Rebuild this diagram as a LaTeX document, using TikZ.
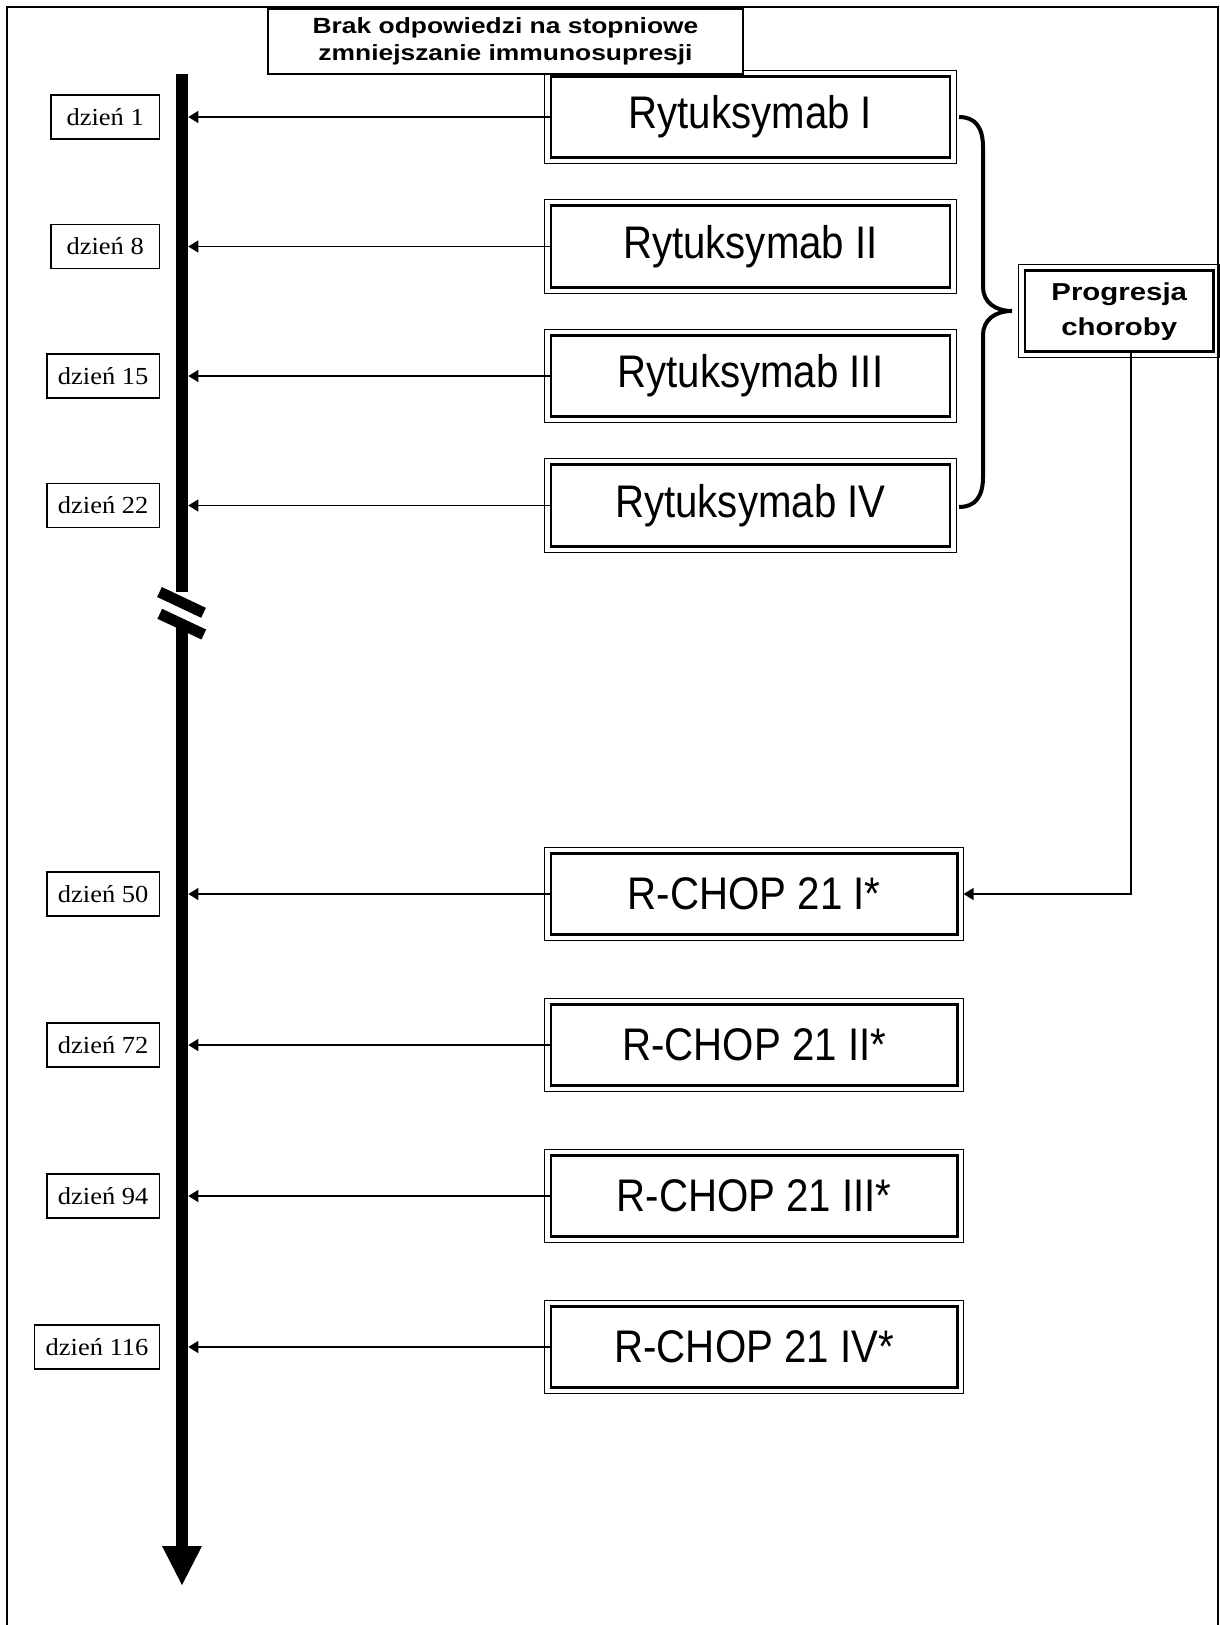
\documentclass[tikz,border=0pt]{standalone}
\usepackage{fontspec}
\setmainfont{Liberation Serif}
\newfontfamily\szeryf{Liberation Serif}[FakeStretch=1.08]
\newfontfamily\waski{Liberation Sans}[FakeStretch=0.88]
\newfontfamily\szeroki{Liberation Sans}[FakeStretch=1.2]
\usetikzlibrary{arrows.meta,calc}

\tikzset{
  lek/.style={draw, line width=2.6pt, fill=white, inner sep=0pt, minimum height=81.5pt, font=\waski\fontsize{45.7}{50}\selectfont},
  rtx/.style={lek, minimum width=399pt},
  chop/.style={lek, minimum width=406.5pt},
  progbox/.style={draw, line width=2.6pt, fill=white, inner sep=0pt, minimum width=188.5pt, minimum height=81pt, align=center, font=\szeroki\bfseries\fontsize{24.5}{35}\selectfont},
  naglowek/.style={draw, line width=1.3pt, fill=white, inner sep=0pt, minimum width=475pt, minimum height=65pt, align=center, font=\szeroki\bfseries\fontsize{22}{27.3}\selectfont},
  dzien/.style={draw, line width=1.3pt, minimum width=108.3pt, minimum height=44pt, inner xsep=11pt, anchor=east, font=\szeryf\fontsize{24.5}{28}\selectfont},
  strz/.style={line width=1.3pt, -{Triangle[length=10pt,width=12pt]}},
}

\begin{document}
\begin{tikzpicture}[x=1pt,y=1pt,yscale=-1,xscale=1]
\useasboundingbox (0,0) rectangle (1219,1625);

%Frame
\draw [line width=1.2pt] (7,1625) -- (7,7) -- (1218,7) -- (1218,1625);

%Time axis, upper part
\coordinate (os) at (188.3,74);
\draw [line width=12.6pt] (182,74) -- (182,592);
%Time axis, lower part with head
\draw [line width=12.6pt] (182,621) -- (182,1547);
\fill (162,1546) -- (202,1546) -- (182,1585) -- cycle;
%Break marks
\draw [line width=11pt] (159.5,592) -- (203.5,612.8);
\draw [line width=11pt] (159.8,613.8) -- (203.8,634.5);

% Rytuksymab boxes
\draw (750.4,117) node [rtx] (r1) {Rytuksymab I};
\draw (750.4,246.5) node [rtx] (r2) {Rytuksymab II};
\draw (750.4,376) node [rtx] (r3) {Rytuksymab III};
\draw (750.4,505.5) node [rtx] (r4) {Rytuksymab IV};
% R-CHOP boxes
\draw (754.2,894) node [chop] (c1) {R-CHOP 21 I*};
\draw (754.2,1045) node [chop] (c2) {R-CHOP 21 II*};
\draw (754.2,1196) node [chop] (c3) {R-CHOP 21 III*};
\draw (754.2,1347) node [chop] (c4) {R-CHOP 21 IV*};
% Progresja box
\draw (1119.25,311.2) node [progbox] (prog) {Progresja\\choroby};

%Outer thin lines of the double frames
\foreach \n in {r1,r2,r3,r4,c1,c2,c3,c4,prog}
  \draw [line width=1pt] ($(\n.north west)+(-4.8,-4.8)$) rectangle ($(\n.south east)+(4.8,4.8)$);

% Header box
\draw (505.5,41.5) node [naglowek] (brak) {Brak odpowiedzi na stopniowe\\zmniejszanie immunosupresji};

%Brace
\draw [line width=4pt] (959,117) .. controls (975,117) and (983,127) .. (983,147) -- (983,287) .. controls (983,302) and (995,311) .. (1012,311) .. controls (995,311) and (983,320) .. (983,335) -- (983,477) .. controls (983,497) and (975,507) .. (959,507);

% Day labels
\draw (160,117) node [dzien] (d1) {dzień 1};
\draw (160,246.5) node [dzien] (d2) {dzień 8};
\draw (160,376) node [dzien] (d3) {dzień 15};
\draw (160,505.5) node [dzien] (d4) {dzień 22};
\draw (160,894) node [dzien] (d5) {dzień 50};
\draw (160,1045) node [dzien] (d6) {dzień 72};
\draw (160,1196) node [dzien] (d7) {dzień 94};
\draw (160,1347) node [dzien] (d8) {dzień 116};

%Arrows to the time axis
\foreach \n in {r1,r2,r3,r4,c1,c2,c3,c4}
  \draw [strz] (\n.west) -- (\n.west -| os);

%Progression to R-CHOP
\draw [strz, shorten >=4.8pt] ([xshift=11.7pt]prog.south) |- (c1.east);

\end{tikzpicture}
\end{document}
